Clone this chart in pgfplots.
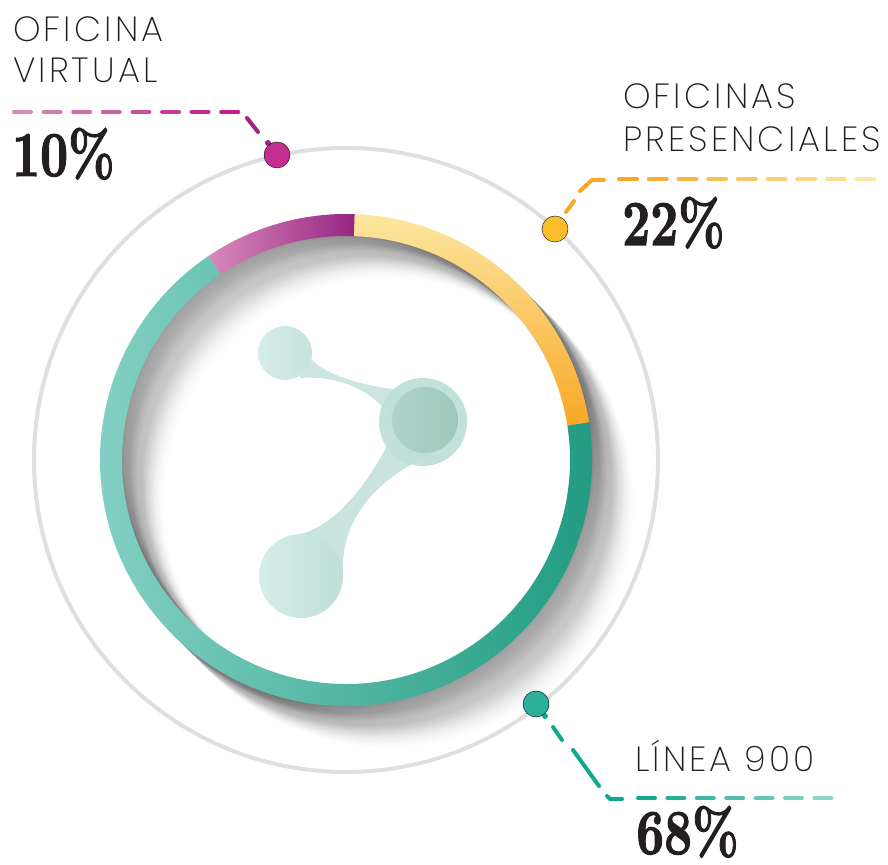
\documentclass[border=0pt]{standalone}
\usepackage{pgfplots}
\pgfplotsset{compat=1.18}
\usepackage{graphicx}
\usepackage{fontspec}
\IfFontExistsTF{Poppins ExtraLight}{\newfontfamily\labfont{Poppins ExtraLight}[LetterSpace=9]}{%
  \IfFontExistsTF{Poppins Light}{\newfontfamily\labfont{Poppins Light}[LetterSpace=9]}{\newfontfamily\labfont{Poppins}[LetterSpace=9]}}
\newfontfamily\pctfont{lmroman10-bold.otf}[FakeBold=1.8]

\definecolor{magL}{HTML}{D98ABA}
\definecolor{magM}{HTML}{C21D8A}
\definecolor{magD}{HTML}{962683}
\definecolor{yelL}{HTML}{FDE6A0}
\definecolor{yelM}{HTML}{FCC22E}
\definecolor{yelD}{HTML}{F8A826}
\definecolor{tealL}{HTML}{85D1C5}
\definecolor{tealM}{HTML}{04B4A0}
\definecolor{tealD}{HTML}{1E9A80}
\definecolor{tealLd}{HTML}{12A78F}
\definecolor{tealLl}{HTML}{8FD6CA}
\definecolor{ringgray}{HTML}{DEDFDF}
\definecolor{logoL}{HTML}{D6EDE9}
\definecolor{logoM}{HTML}{BFDFD8}
\definecolor{logoD}{HTML}{9DC8BB}
\definecolor{txt}{HTML}{231F20}

\foreach \i in {0,...,7}{\pgfmathtruncatemacro\p{100-\i*100/7}\xglobal\colorlet{mg\i}{magL!\p!magM}}
\foreach \i in {0,...,8}{\pgfmathtruncatemacro\p{100-\i*100/8}\xglobal\colorlet{yl\i}{yelD!\p!yelL}}
\foreach \i in {0,...,6}{\pgfmathtruncatemacro\p{100-\i*100/6}\xglobal\colorlet{tl\i}{tealLd!\p!tealLl}}

% data (percent)
\def\vPres{22}
\def\vLinea{68}
\def\vVirt{10}
\pgfmathsetmacro\aA{88}
\pgfmathsetmacro\aB{\aA-3.6*\vPres}
\pgfmathsetmacro\aC{\aB-3.6*\vLinea}
\pgfmathsetmacro\aD{\aC-3.6*\vVirt}

\newcommand\seg[3]{%
  \shade[#3] (axis cs:{346+246*cos(#1)},{404+246*sin(#1)})
    arc[start angle=#1,end angle=#2,radius=246pt]
    -- (axis cs:{346+224*cos(#2)},{404+224*sin(#2)})
    arc[start angle=#2,end angle=#1,radius=224pt] -- cycle;}

\newcommand\lab[1]{{\labfont\fontsize{35}{40}\selectfont #1}}
\newcommand\pct[1]{\scalebox{0.76}[1]{\pctfont\fontsize{64}{64}\selectfont #1}}

\begin{document}
\begin{tikzpicture}
\path[use as bounding box] (0,0) rectangle (888pt,864pt);
\begin{axis}[at={(0,0)}, anchor=south west, width=888pt, height=864pt,
  scale only axis, xmin=0, xmax=888, ymin=0, ymax=864, hide axis, clip=false]

% shadow of the ring
\pgfplotsinvokeforeach{1,...,46}{
  \draw[black, opacity={0.034-0.0007*#1}, line width=22pt] (axis cs:{346+0.95*#1},{404-0.95*#1}) circle[radius=235pt];
}
% outer thin circle
\draw[ringgray, line width=4pt] (axis cs:346,404) circle[radius=312pt];

% donut segments
\seg{\aA}{\aB}{top color=yelL, middle color=yelM, bottom color=yelD}
\seg{\aB}{\aC}{left color=tealL, middle color=tealM, right color=tealD}
\seg{\aC}{\aD}{left color=magL, middle color=magM, right color=magD}

% logo
\fill[logoM!80!white] (axis cs:305,514) .. controls (axis cs:315,492) and (axis cs:355,479) .. (axis cs:400,474)
   -- (axis cs:395,439) .. controls (axis cs:380,469) and (axis cs:345,489) .. (axis cs:300,486) -- cycle;
\fill[logoM!85!white] (axis cs:390,424) .. controls (axis cs:365,374) and (axis cs:330,334) .. (axis cs:295,329)
   -- (axis cs:343,289) .. controls (axis cs:340,344) and (axis cs:375,384) .. (axis cs:430,409) -- cycle;
\shade[left color=logoL, right color=logoM!90!white] (axis cs:285,511) circle[radius=27pt];
\shade[left color=logoL, right color=logoM] (axis cs:301,288) circle[radius=42pt];
\fill[logoM, opacity=0.95] (axis cs:423,442) circle[radius=44pt];
\shade[left color=logoD!80!white, right color=logoD] (axis cs:425,444) circle[radius=33pt];

% leader lines
\pgfplotsinvokeforeach{0,...,7}{
  \draw[mg#1, line width=4pt, line cap=round] (axis cs:{14+29.6*#1},752) -- (axis cs:{31+29.6*#1},752);
}
\draw[magD!80!magM, line width=4pt, line cap=round] (axis cs:247,746) -- (axis cs:258,732);
\fill[magD!80!magM] (axis cs:268,721) circle[radius=3pt];

\pgfplotsinvokeforeach{0,...,8}{
  \draw[yl#1, line width=4pt, line cap=round] (axis cs:{619+29.7*#1},685) -- (axis cs:{637+29.7*#1},685);
}
\draw[yelD, line width=4pt, line cap=round, line join=round] (axis cs:580,673) -- (axis cs:592,684) -- (axis cs:604,684);
\draw[yelD, line width=4pt, line cap=round] (axis cs:566,652) -- (axis cs:574,663);

\pgfplotsinvokeforeach{0,...,6}{
  \draw[tl#1, line width=4pt, line cap=round] (axis cs:{638+29.4*#1},66) -- (axis cs:{655+29.4*#1},66);
}
\draw[tealLd, line width=4pt, line cap=round, line join=round] (axis cs:607,68) -- (axis cs:610,65) -- (axis cs:622,65);
\draw[tealLd, line width=4pt, line cap=round] (axis cs:573,114) -- (axis cs:599,78);
\draw[tealLd, line width=4pt, line cap=round] (axis cs:553,137) -- (axis cs:562,124);
\fill[tealLd] (axis cs:545,148) circle[radius=3pt];

% dots on the outer circle
\addplot[only marks, mark=*, mark size=13pt, mark options={draw=none, fill=magM!85!magL}] coordinates {(277,709)};
\addplot[only marks, mark=*, mark size=13pt, mark options={draw=none, fill=yelM!80!yelD}] coordinates {(555,635)};
\addplot[only marks, mark=*, mark size=13pt, mark options={draw=none, fill=tealLd!80!tealLl}] coordinates {(536,160)};

% labels
\node[anchor=base west, inner sep=0, text=txt] at (axis cs:13,822) {\lab{OFICINA}};
\node[anchor=base west, inner sep=0, text=txt] at (axis cs:13,781) {\lab{VIRTUAL}};
\node[anchor=base west, inner sep=0, text=txt] at (axis cs:12,688) {\pct{10\%}};

\node[anchor=base west, inner sep=0, text=txt] at (axis cs:623,755) {\lab{OFICINAS}};
\node[anchor=base west, inner sep=0, text=txt] at (axis cs:623,712) {\lab{PRESENCIALES}};
\node[anchor=base west, inner sep=0, text=txt] at (axis cs:622,619) {\pct{22\%}};

\node[anchor=base west, inner sep=0, text=txt] at (axis cs:635,92) {\lab{LÍNEA 900}};
\node[anchor=base west, inner sep=0, text=txt] at (axis cs:636,10) {\pct{68\%}};
\end{axis}
\end{tikzpicture}
\end{document}
